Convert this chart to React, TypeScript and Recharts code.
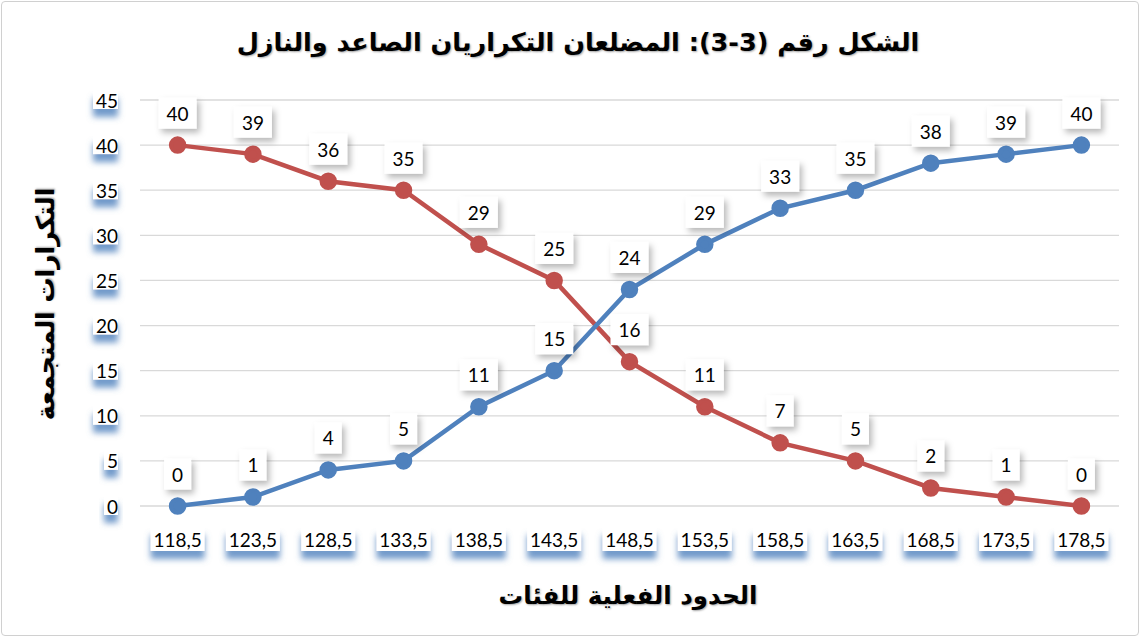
// Ascending / descending cumulative frequency polygons
import { LineChart, Line, XAxis, YAxis, CartesianGrid, LabelList } from 'recharts';

const boundaries = ['118,5', '123,5', '128,5', '133,5', '138,5', '143,5', '148,5', '153,5', '158,5', '163,5', '168,5', '173,5', '178,5'];
const ascending = [0, 1, 4, 5, 11, 15, 24, 29, 33, 35, 38, 39, 40];
const descending = [40, 39, 36, 35, 29, 25, 16, 11, 7, 5, 2, 1, 0];
const yTicks = [0, 5, 10, 15, 20, 25, 30, 35, 40, 45];

const title = 'الشكل رقم (3-3): المضلعان التكراريان الصاعد والنازل';
const xTitle = 'الحدود الفعلية للفئات';
const yTitle = 'التكرارات المتجمعة';

const data = boundaries.map((b, i) => ({ bound: b, asc: ascending[i], desc: descending[i] }));

const BLUE = '#4F81BD';
const RED = '#C0504D';
const NUM_FONT = 'Lato, "Open Sans", sans-serif';
const AR_FONT = '"DejaVu Sans", sans-serif';

function YTick({ x, y, payload }: any) {
  const s = String(payload.value);
  const w = s.length * 11 + 3;
  return (
    <g>
      <rect x={x - w} y={y - 10} width={w} height={19} fill="#fff" filter="url(#blueShadow)" />
      <text x={x} y={y} textAnchor="end" dominantBaseline="central" fontFamily={NUM_FONT} fontSize={19} fill="#000">
        {s}
      </text>
    </g>
  );
}

function XTick({ x, y, payload }: any) {
  const w = 54;
  const cy = y + 33;
  return (
    <g>
      <rect x={x - w / 2} y={cy - 12} width={w} height={24} fill="#fff" filter="url(#blueShadow)" />
      <text x={x} y={cy} textAnchor="middle" dominantBaseline="central" fontFamily={NUM_FONT} fontSize={19} fill="#000">
        {payload.value}
      </text>
    </g>
  );
}

function BoxLabel({ x, y, value }: any) {
  const s = String(value);
  const w = 16 + s.length * 11;
  const h = 31;
  const cy = y - 32;
  return (
    <g>
      <rect x={x - w / 2} y={cy - h / 2} width={w} height={h} fill="#fff" filter="url(#grayShadow)" />
      <text x={x} y={cy} textAnchor="middle" dominantBaseline="central" fontFamily={NUM_FONT} fontSize={19} fill="#000">
        {s}
      </text>
    </g>
  );
}

const arStyle = {
  fontFamily: AR_FONT,
  fontWeight: 'bold' as const,
  color: '#000',
  textShadow: '1px 1px 2px rgba(0,0,0,0.35)',
  whiteSpace: 'nowrap' as const,
  textAlign: 'center' as const,
};

export default function App() {
  return (
    <div style={{ position: 'absolute', left: 0, top: 0, width: 1140, height: 637, background: '#fff' }}>
      <svg width={0} height={0} style={{ position: 'absolute' }}>
        <defs>
          <filter id="blueShadow" x="-30%" y="-30%" width="160%" height="220%">
            <feDropShadow dx={0} dy={8} stdDeviation={3} floodColor={BLUE} floodOpacity={0.8} />
          </filter>
          <filter id="grayShadow" x="-30%" y="-30%" width="170%" height="170%">
            <feDropShadow dx={3} dy={4} stdDeviation={3} floodColor="#000" floodOpacity={0.28} />
          </filter>
        </defs>
      </svg>
      <div
        style={{
          position: 'absolute', left: 1, top: 1, width: 1136, height: 633,
          border: '1px solid #d0d0d0', borderRadius: 4,
        }}
      />
      <LineChart width={1140} height={637} data={data} margin={{ top: 100, right: 21, left: 0, bottom: 0 }}>
        <CartesianGrid vertical={false} stroke="#d9d9d9" strokeWidth={1.3} />
        <XAxis
          dataKey="bound"
          height={131}
          padding={{ left: 37.6, right: 37.6 }}
          axisLine={false}
          tickLine={false}
          tickSize={0}
          tickMargin={0}
          interval={0}
          tick={<XTick />}
        />
        <YAxis
          width={140}
          domain={[0, 45]}
          ticks={yTicks}
          axisLine={false}
          tickLine={false}
          tickSize={0}
          tickMargin={22}
          interval={0}
          tick={<YTick />}
        />
        <Line
          dataKey="desc"
          stroke={RED}
          strokeWidth={4.5}
          dot={{ r: 6.5, fill: RED, stroke: RED }}
          isAnimationActive={false}
        >
          <LabelList dataKey="desc" content={<BoxLabel />} />
        </Line>
        <Line
          dataKey="asc"
          stroke={BLUE}
          strokeWidth={4.5}
          dot={{ r: 6.5, fill: BLUE, stroke: BLUE }}
          isAnimationActive={false}
        >
          <LabelList dataKey="asc" content={<BoxLabel />} />
        </Line>
      </LineChart>
      <div dir="rtl" style={{ ...arStyle, position: 'absolute', left: 0, width: 1156, top: 27, fontSize: 25.5 }}>
        {title}
      </div>
      <div dir="rtl" style={{ ...arStyle, position: 'absolute', left: 0, width: 1256, top: 581, fontSize: 24.5 }}>
        {xTitle}
      </div>
      <div style={{ position: 'absolute', left: 45, top: 304, width: 0, height: 0 }}>
        <div
          dir="rtl"
          style={{
            ...arStyle, position: 'absolute', left: 0, top: 0,
            transform: 'translate(-50%, -50%) rotate(-90deg)', fontSize: 25,
          }}
        >
          {yTitle}
        </div>
      </div>
    </div>
  );
}
